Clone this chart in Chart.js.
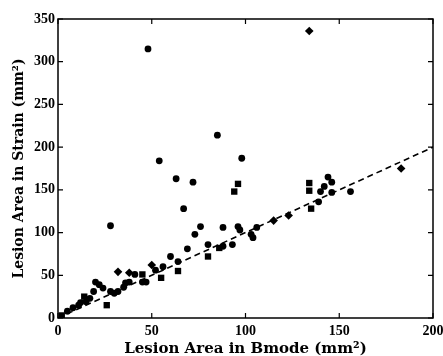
<!DOCTYPE html>
<html>
<head>
<meta charset="utf-8">
<script src="https://cdn.jsdelivr.net/npm/chart.js@4.4.1/dist/chart.umd.min.js"></script>
<style>
  html, body { margin: 0; padding: 0; background: #fff; }
  #wrap { width: 443px; height: 356px; }
</style>
</head>
<body>
<div id="wrap"><canvas id="c" width="443" height="356"></canvas></div>
<script>
// Lesion areas: B-mode (x) vs strain image (y), mm^2
const roundLesions = [
  [5, 8], [8, 12], [11, 15], [12, 18], [15, 19], [17, 23], [19, 31], [20, 42],
  [22, 39], [24, 35], [28, 31], [30, 29], [32, 31], [35, 36], [36, 41], [38, 42],
  [28, 108], [41, 51], [45, 42], [47, 42], [52, 56], [48, 315], [54, 184],
  [56, 60], [60, 72], [63, 163], [64, 66], [67, 128], [69, 81], [72, 159],
  [73, 98], [76, 107], [80, 86], [85, 214], [88, 84], [88, 106], [93, 86],
  [96, 107], [97, 103], [98, 187], [103, 98], [104, 94], [106, 106],
  [139, 136], [144, 165], [146, 159], [142, 154], [140, 148], [146, 147], [156, 148]
];
const diamondLesions = [
  [134, 336], [183, 175], [32, 54], [123, 120], [115, 114], [50, 62], [38, 53]
];
const squareLesions = [
  [14, 25], [26, 15], [64, 55], [80, 72], [55, 47], [45, 51], [86, 82],
  [94, 148], [96, 157], [134, 158], [134, 149], [135, 128], [2, 3]
];
// identity reference line y = x
const identityLine = [[0, 0], [200, 200]];

const xTicks = [0, 50, 100, 150, 200];
const yTicks = [0, 50, 100, 150, 200, 250, 300, 350];

const toPts = arr => arr.map(([x, y]) => ({ x, y }));
const serif = "'Liberation Serif', 'DejaVu Serif', serif";
const wideSerif = "'DejaVu Serif', 'Liberation Serif', serif";

// box frame with inward tick marks on all four sides
const framePlugin = {
  id: 'frame',
  afterDraw(chart) {
    const { ctx, chartArea: a, scales } = chart;
    ctx.save();
    ctx.strokeStyle = '#000';
    ctx.lineWidth = 1.5;
    ctx.strokeRect(a.left, a.top, a.right - a.left, a.bottom - a.top);
    ctx.lineWidth = 1.2;
    const len = 5;
    xTicks.forEach(v => {
      const px = scales.x.getPixelForValue(v);
      ctx.beginPath();
      ctx.moveTo(px, a.bottom); ctx.lineTo(px, a.bottom - len);
      ctx.moveTo(px, a.top); ctx.lineTo(px, a.top + len);
      ctx.stroke();
    });
    yTicks.forEach(v => {
      const py = scales.y.getPixelForValue(v);
      ctx.beginPath();
      ctx.moveTo(a.left, py); ctx.lineTo(a.left + len, py);
      ctx.moveTo(a.right, py); ctx.lineTo(a.right - len, py);
      ctx.stroke();
    });
    ctx.restore();
  }
};

new Chart(document.getElementById('c'), {
  type: 'scatter',
  data: {
    datasets: [
      {
        type: 'line',
        data: toPts(identityLine),
        borderColor: '#000',
        borderWidth: 1.6,
        borderDash: [6, 4],
        pointRadius: 0,
        fill: false
      },
      {
        data: toPts(roundLesions),
        pointStyle: 'circle',
        pointRadius: 3.4,
        backgroundColor: '#000',
        borderColor: '#000',
        borderWidth: 0
      },
      {
        data: toPts(diamondLesions),
        pointStyle: 'rectRot',
        pointRadius: 4.3,
        backgroundColor: '#000',
        borderColor: '#000',
        borderWidth: 0
      },
      {
        data: toPts(squareLesions),
        pointStyle: 'rect',
        pointRadius: 4.5,
        backgroundColor: '#000',
        borderColor: '#000',
        borderWidth: 0
      }
    ]
  },
  options: {
    responsive: false,
    animation: false,
    layout: { padding: { top: 19, right: 10, left: 2, bottom: 0 } },
    plugins: { legend: { display: false }, tooltip: { enabled: false } },
    scales: {
      x: {
        type: 'linear',
        min: 0, max: 200,
        afterBuildTicks: s => { s.ticks = xTicks.map(v => ({ value: v })); },
        afterFit: s => { s.height = 38; s.paddingLeft = 0; s.paddingRight = 0; },
        grid: { display: false, drawTicks: false },
        border: { display: false },
        ticks: { color: '#000', padding: 5, font: { family: serif, size: 14, weight: 'bold' } },
        title: {
          display: true,
          text: 'Lesion Area in Bmode (mm²)',
          color: '#000',
          padding: { top: 0, bottom: 0 },
          font: { family: wideSerif, size: 15, weight: 'bold', lineHeight: '14px' }
        }
      },
      y: {
        type: 'linear',
        min: 0, max: 350,
        afterBuildTicks: s => { s.ticks = yTicks.map(v => ({ value: v })); },
        afterFit: s => { s.width = 56; s.paddingTop = 0; s.paddingBottom = 0; },
        grid: { display: false, drawTicks: false },
        border: { display: false },
        ticks: { color: '#000', padding: 3, font: { family: serif, size: 14, weight: 'bold' } },
        title: {
          display: true,
          text: 'Lesion Area in Strain (mm²)',
          color: '#000',
          padding: { top: 8, bottom: 0 },
          font: { family: wideSerif, size: 14, weight: 'bold', lineHeight: '18px' }
        }
      }
    }
  },
  plugins: [framePlugin]
});
</script>
</body>
</html>
